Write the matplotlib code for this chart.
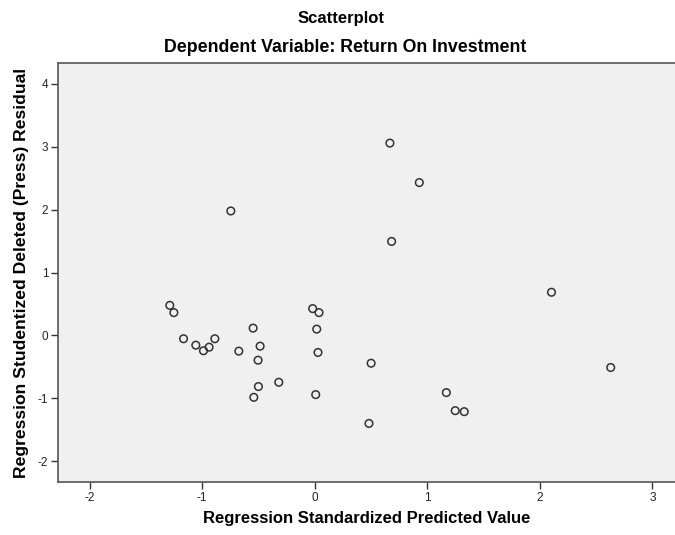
import matplotlib
matplotlib.use("Agg")
import matplotlib.pyplot as plt

# Predicted (x) vs studentized deleted residual (y)
pred = [0.668, 0.929, -0.745, 0.683, 2.103, -1.287, -1.251, -0.018, 0.038, -0.547,
        0.018, -1.165, -1.056, -0.887, -0.938, -0.988, -0.674, -0.485, 0.029, -0.503,
        0.501, 2.629, -0.500, -0.319, -0.541, 0.009, 1.169, 1.248, 1.328, 0.482]
resid = [3.057, 2.429, 1.978, 1.494, 0.686, 0.478, 0.362, 0.426, 0.362, 0.116,
         0.100, -0.053, -0.155, -0.053, -0.187, -0.244, -0.250, -0.171, -0.271, -0.394,
         -0.442, -0.510, -0.813, -0.745, -0.984, -0.941, -0.909, -1.196, -1.212, -1.399]

xticks = [-2, -1, 0, 1, 2, 3]
yticks = [-2, -1, 0, 1, 2, 3, 4]

plt.rcParams['font.family'] = ['Liberation Sans', 'DejaVu Sans']

fig = plt.figure(figsize=(6.75, 5.35), dpi=100)
fig.patch.set_facecolor('white')
ax = fig.add_axes([58 / 675, 1 - 482 / 535, 1 - 58 / 675, (482 - 63) / 535])
ax.set_facecolor('#f0f0f0')

ax.scatter(pred, resid, s=30, facecolors='none', edgecolors='#333333',
           linewidths=1.1, zorder=5)

ax.set_xlim(-2.28, 3.2)
ax.set_ylim(-2.33, 4.33)
ax.set_xticks(xticks)
ax.set_yticks(yticks)
ax.set_xticklabels([str(t) for t in xticks])
ax.set_yticklabels([str(t) for t in yticks])
ax.tick_params(direction='out', length=5, width=1, color='#333333',
               labelsize=8.5, labelcolor='#222222', pad=2)

for side in ['left', 'bottom', 'top']:
    ax.spines[side].set_color('#555555')
    ax.spines[side].set_linewidth(1.2)
ax.spines['right'].set_visible(False)

ax.set_xlabel('Regression Standardized Predicted Value', fontsize=12,
              fontweight='bold', labelpad=5)
ax.set_ylabel('Regression Studentized Deleted (Press) Residual', fontsize=12.6,
              fontweight='bold', labelpad=6)

fig.text(341 / 675, 1 - 18 / 535, 'Scatterplot', ha='center', va='center',
         fontsize=12, fontweight='bold')
fig.text(345 / 675, 1 - 48 / 535, 'Dependent Variable: Return On Investment',
         ha='center', va='center', fontsize=12.8, fontweight='bold')

fig.savefig('out.png', dpi=100)
